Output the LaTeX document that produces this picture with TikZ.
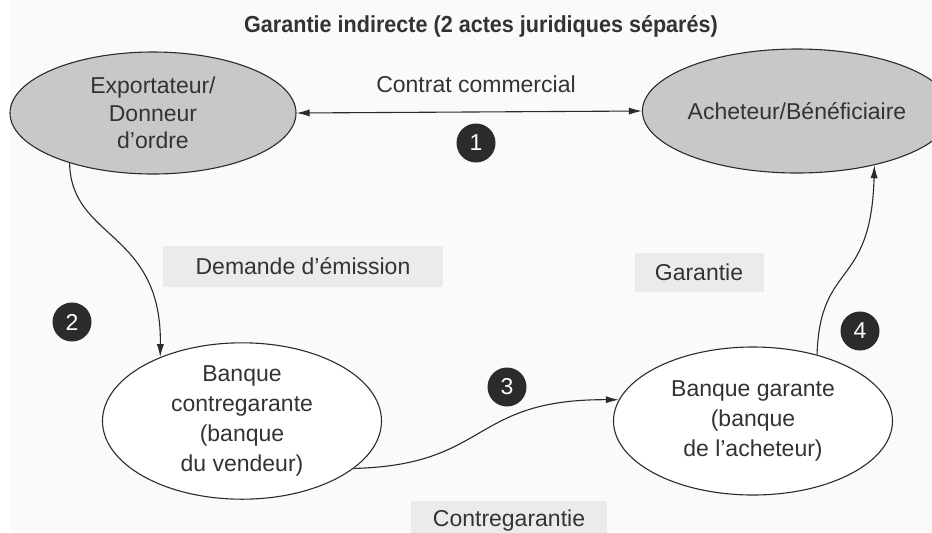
\documentclass[tikz,border=0pt]{standalone}
\usepackage{fontspec}
\setmainfont{Liberation Sans}
\newfontfamily\titlefont[FakeStretch=0.93]{Liberation Sans}
\usetikzlibrary{arrows.meta,shapes.geometric,positioning}
\definecolor{diagink}{HTML}{2B2B2B}
\definecolor{diagtext}{HTML}{333333}
\definecolor{partyfill}{HTML}{C8C8C8}
\definecolor{tagfill}{HTML}{EBEBEB}
\definecolor{paperbg}{HTML}{FAFAFA}

\begin{document}
\begin{tikzpicture}[
  x=0.5pt,
  y=-0.5pt,
  every node/.style={font=\fontsize{11.5pt}{13.75pt}\selectfont, text=diagtext},
  party/.style={ellipse, draw=diagink, line width=0.55pt, fill=partyfill,
                inner sep=0pt, align=center},
  bank/.style={party, fill=white,
               font=\fontsize{11.5pt}{15pt}\selectfont},
  tag/.style={fill=tagfill, inner sep=0pt},
  stepmark/.style={circle, fill=diagink, text=white, inner sep=0pt,
                   minimum size=19.5pt},
  flow/.style={diagink, line width=0.55pt, -{Latex[length=6.5pt,width=3.6pt]}},
  twoway/.style={diagink, line width=0.55pt,
                 {Latex[length=6.5pt,width=3.6pt]}-{Latex[length=6.5pt,width=3.6pt]}}
]
  % ---- canvas ----
  \useasboundingbox (0,0) rectangle (932,532);
  \fill[paperbg] (10,0) rectangle (932,532);

  % ---- title ----
  \node[font=\titlefont\bfseries\fontsize{11.6pt}{14pt}\selectfont] (title)
    at (481,26) {Garantie indirecte (2 actes juridiques séparés)};

  % ---- parties of the contract ----
  \node[party, minimum width=143pt, minimum height=61pt] (exporter)
    at (153,113) {Exportateur/\\Donneur\\d’ordre};
  \node[party, minimum width=142pt, minimum height=62pt] (buyer)
    at (797,111) {Acheteur/Bénéficiaire};

  % ---- banks ----
  \node[bank, minimum width=139.5pt, minimum height=74pt] (counterbank)
    at (242,421) {Banque\\contregarante\\(banque\\du vendeur)};
  \node[bank, minimum width=139.5pt, minimum height=74pt] (guarantor)
    at (753,421) {Banque garante\\(banque\\de l’acheteur)};

  % ---- flow labels ----
  \node (contract) at (476,84) {Contrat commercial};
  \node[tag, minimum width=140pt, minimum height=20.5pt] (request)
    at (303,266) {Demande d’émission};
  \node[tag, minimum width=64.5pt, minimum height=19.5pt] (guarantee)
    at (699,272) {Garantie};
  \node[tag, minimum width=98pt, minimum height=20pt] (counterguar)
    at (509,521) {Contregarantie};

  % ---- step numbers ----
  \node[stepmark] (m1) at (476,143) {1};
  \node[stepmark] (m2) at (72,322)  {2};
  \node[stepmark] (m3) at (507,387) {3};
  \node[stepmark] (m4) at (860,331) {4};

  % ---- connectors ----
  \draw[twoway] (exporter.east) -- (buyer.west);
  \draw[flow] (exporter.211) .. controls (71,240) and (162,230) .. (counterbank.142);
  \draw[flow] (counterbank.-23) .. controls (490,465) and (470,399) .. (guarantor.171);
  \draw[flow] (guarantor.46) .. controls (820,260) and (871,290) .. (buyer.-35);
\end{tikzpicture}
\end{document}
